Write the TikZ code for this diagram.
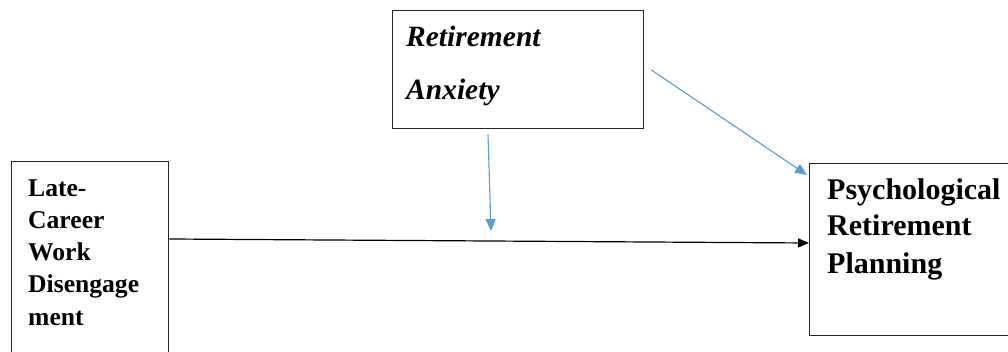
\documentclass[tikz,border=0pt]{standalone}
\usepackage{fontspec}
\setmainfont{Liberation Serif}
\usetikzlibrary{arrows.meta,calc}
\definecolor{arrowblue}{HTML}{5B9BD5}
\tikzset{
  box/.style={draw=black!85, line width=1.4pt, fill=none, inner sep=0pt, anchor=north west},
  lbl/.style={anchor=base west, inner sep=0pt, font=\bfseries\fontsize{25.6}{30}\selectfont},
  rlbl/.style={anchor=base west, inner sep=0pt, font=\bfseries\fontsize{30}{34}\selectfont},
  tlbl/.style={anchor=base west, inner sep=0pt, font=\bfseries\itshape\fontsize{29.5}{34}\selectfont},
  blackarrow/.style={draw=black, line width=1.2pt, -{Triangle[length=11pt,width=9pt]}},
  bluearrow/.style={draw=arrowblue, line width=1.1pt, -{Triangle[length=12pt,width=10pt]}}
}
\begin{document}
\begin{tikzpicture}[x=1pt,y=-1pt]
\useasboundingbox (0,0) rectangle (1008,352);
\node[box, minimum width=157pt, minimum height=220pt] (L) at (11,161) {};
\node[box, minimum width=251pt, minimum height=118pt] (T) at (392,10) {};
\node[box, minimum width=220pt, minimum height=172pt] (R) at (809,163) {};
\node[lbl] (l1) at (28,197) {Late-};
\node[lbl] (l2) at (28,229) {Career};
\node[lbl] (l3) at (28,261) {Work};
\node[lbl] (l4) at (28,293) {Disengage};
\node[lbl] (l5) at (28,325) {ment};
\node[tlbl] (t1) at (406,47) {Retirement};
\node[tlbl] (t2) at (406,100) {Anxiety};
\node[rlbl] (r1) at (827,200) {Psychological};
\node[rlbl] (r2) at (827,236) {Retirement};
\node[rlbl] (r3) at (827,273) {Planning};
\coordinate (vend) at (491,231);
\draw[blackarrow] ($(L.north east)+(0,78)$) -- ($(R.north west)+(0,80)$);
\draw[bluearrow] ($(T.south west)+(96,5)$) -- (vend);
\draw[bluearrow] ($(T.north east)+(7,60)$) -- ($(R.north west)+(-2,12)$);
\end{tikzpicture}
\end{document}
